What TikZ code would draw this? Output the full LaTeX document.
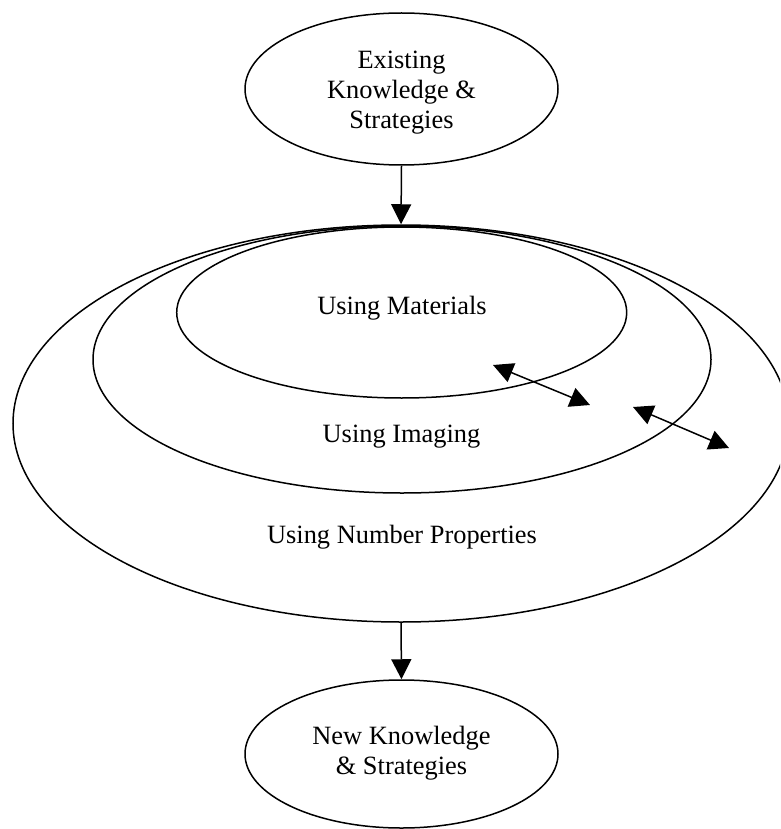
\documentclass[tikz,border=0pt]{standalone}
\usepackage{fontspec}
\setmainfont{Liberation Serif}
\usetikzlibrary{shapes.geometric,arrows.meta}
\begin{document}
\begin{tikzpicture}[x=1pt,y=-1pt,
  ell/.style={draw,ellipse,line width=1.5pt,inner sep=0pt},
  lbl/.style={font=\fontsize{26.4}{30}\selectfont,align=center,inner sep=0pt},
  conn/.style={line width=1.5pt,-{Triangle[length=20pt,width=20pt]}},
  dconn/.style={line width=1.5pt,{Triangle[length=20pt,width=20pt]}-{Triangle[length=20pt,width=20pt]}}]
\path[use as bounding box,clip] (0,0) rectangle (780,829);
\node[ell,minimum width=313pt,minimum height=152pt] (top) at (401.5,89) {};
\node[lbl] (toptxt) at (401.5,92.5) {Existing\\Knowledge \&\\Strategies};
\node[ell,minimum width=776pt,minimum height=397pt] (outer) at (401,423.5) {};
\node[ell,minimum width=618pt,minimum height=267pt] (middle) at (402,359.5) {};
\node[ell,minimum width=450pt,minimum height=171pt] (inner) at (401.7,312.5) {};
\node[lbl] (mat) at (402,308) {Using Materials};
\node[lbl] (img) at (401.5,437) {Using Imaging};
\node[lbl] (num) at (402,537) {Using Number Properties};
\node[ell,minimum width=313pt,minimum height=148pt] (bottom) at (401.5,754) {};
\node[lbl] (bottxt) at (401.5,753) {New Knowledge\\\& Strategies};
\draw[conn] (top.south) -- (outer.north);
\draw[conn] (outer.south) -- (bottom.north);
\coordinate (a1) at (493,365);
\coordinate (a2) at (590,405);
\coordinate (b1) at (633,407);
\coordinate (b2) at (729,448);
\draw[dconn] (a1) -- (a2);
\draw[dconn] (b1) -- (b2);
\end{tikzpicture}
\end{document}
